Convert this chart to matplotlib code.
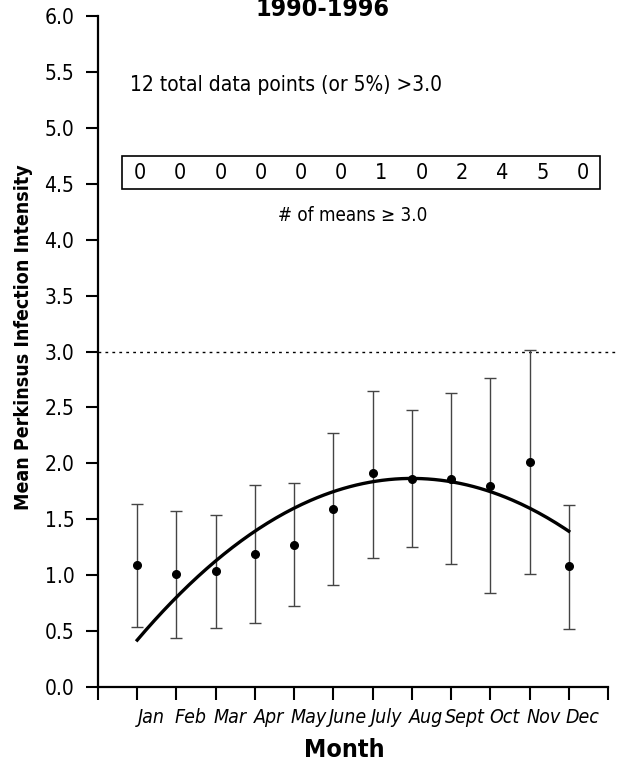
import numpy as np
import matplotlib.pyplot as plt

months = ["Jan", "Feb", "Mar", "Apr", "May", "June", "July", "Aug", "Sept", "Oct", "Nov", "Dec"]
means = [1.09, 1.01, 1.04, 1.19, 1.27, 1.59, 1.91, 1.86, 1.86, 1.80, 2.01, 1.08]
upper = [1.64, 1.57, 1.54, 1.81, 1.82, 2.27, 2.65, 2.48, 2.63, 2.76, 3.01, 1.63]
lower = [0.54, 0.44, 0.53, 0.57, 0.72, 0.91, 1.15, 1.25, 1.10, 0.84, 1.01, 0.52]
n_over = [0, 0, 0, 0, 0, 0, 1, 0, 2, 4, 5, 0]
# quadratic fit: a*x^2 + b*x + c
fit_coef = [-0.0295, 0.472, -0.023]
threshold = 3.0

plt.rcParams["font.family"] = ["DejaVu Sans"]
plt.rcParams["font.stretch"] = "condensed"

fig = plt.figure(figsize=(6.18, 7.65), dpi=100)
ax = fig.add_axes([98 / 618, 78 / 765, 510 / 618, 671 / 765])

x = np.arange(1, 13)
means = np.array(means)
yerr = [means - np.array(lower), np.array(upper) - means]

ax.errorbar(x, means, yerr=yerr, fmt="o", color="black", ms=5.5,
            ecolor="#444444", elinewidth=1.0, capsize=4.5, capthick=1.0, zorder=3)

xs = np.linspace(1, 12, 200)
ax.plot(xs, np.polyval(fit_coef, xs), color="black", lw=2.4, zorder=4)

ax.plot([0, 13.3], [threshold, threshold], color="black", lw=1, ls=(0, (2, 3)),
        clip_on=False)

ax.set_xlim(0, 13)
ax.set_ylim(0, 6)
yt = np.arange(0, 6.01, 0.5)
ax.set_yticks(yt)
ax.set_yticklabels([f"{v:.1f}" for v in yt], fontsize=15)

# tick marks on the month positions, labels sit a bit to the right of them
ax.set_xticks(np.arange(0, 14))
ax.set_xticklabels([])
ax.set_xticks(x + 0.36, months, minor=True, fontsize=14, style="oblique")

for s in ["top", "right"]:
    ax.spines[s].set_visible(False)
for s in ["left", "bottom"]:
    ax.spines[s].set_linewidth(1.6)
ax.tick_params(direction="out", length=9, width=1.5)
ax.tick_params(axis="y", pad=8)
ax.tick_params(axis="x", which="minor", length=0, pad=15)

ax.set_ylabel("Mean Perkinsus Infection Intensity", fontsize=14, fontweight="bold")
ax.yaxis.set_label_coords(-0.127, 0.522)
ax.set_xlabel("Month", fontsize=18, fontweight="bold")
ax.xaxis.set_label_coords(0.482, -0.076)

ax.text(0.82, 5.38, "12 total data points (or 5%) >3.0", fontsize=15, va="center", ha="left")

box = plt.Rectangle((0.61, 4.455), 12.19, 0.29, fill=False, lw=1.2, ec="black")
ax.add_patch(box)
for xp, n in zip(np.linspace(1.07, 12.35, 12), n_over):
    ax.text(xp, 4.6, str(n), fontsize=15.5, ha="center", va="center")
ax.text(6.5, 4.22, "# of means \u2265 3.0", fontsize=13.5, ha="center", va="center")

fig.text(322 / 618, 1 - 9 / 765, "1990-1996", fontsize=18, fontweight="bold",
         ha="center", va="center")

fig.savefig("out.png", dpi=100)
